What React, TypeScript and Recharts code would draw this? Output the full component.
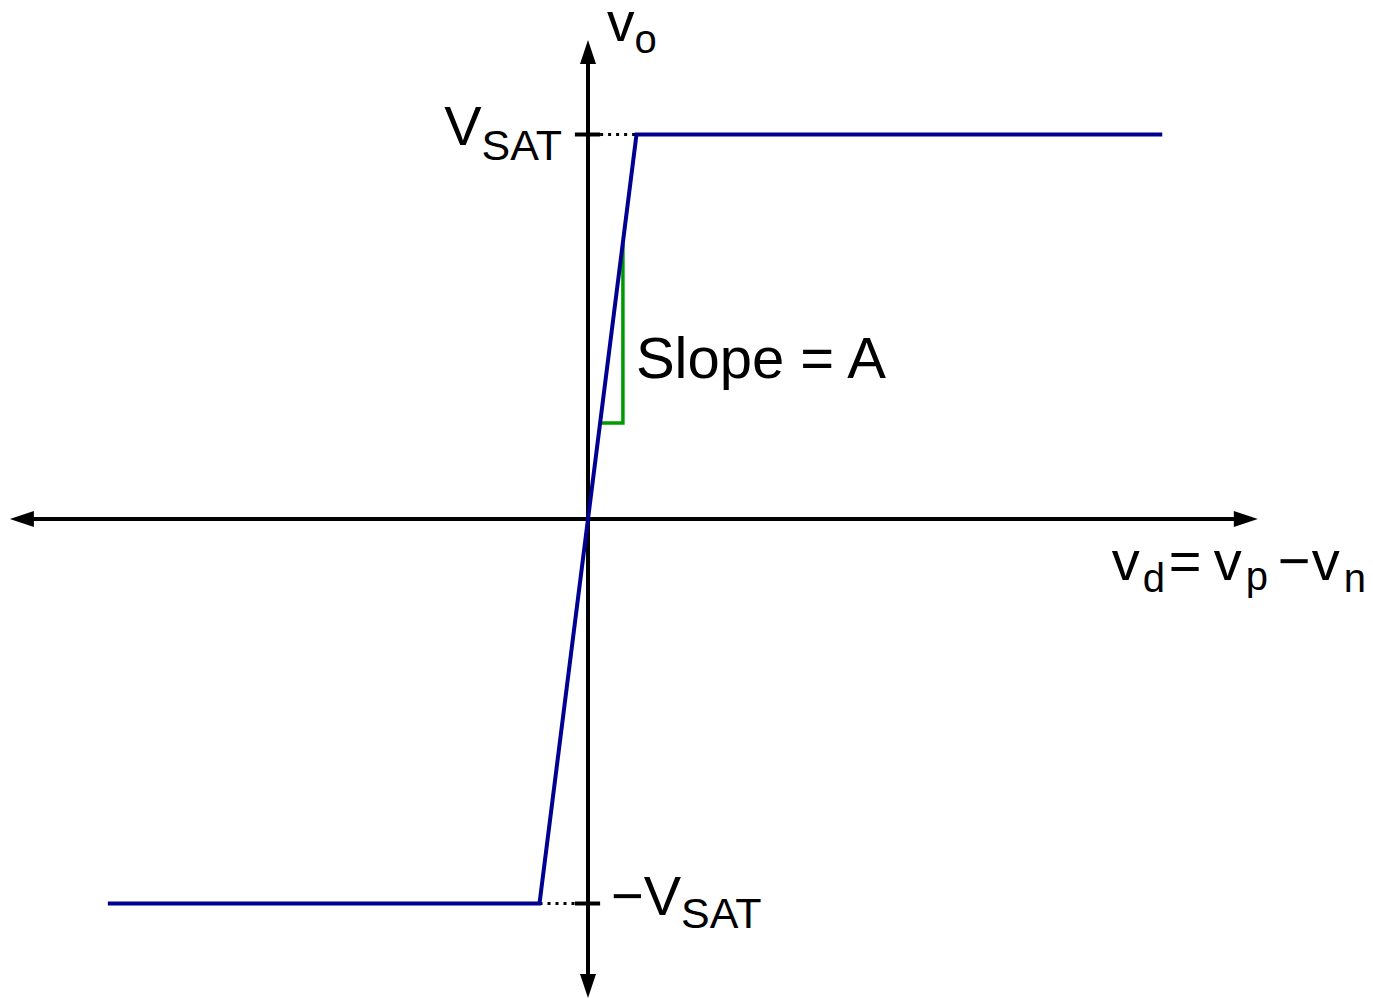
import { LineChart, Line, XAxis, YAxis, ReferenceLine, ReferenceDot } from 'recharts';

// Ideal op-amp transfer curve, vd in units of VSAT/A, vo in units of VSAT
const transferVd = [-9.9, -1, 1, 11.84];
const transferVo = [-1, -1, 1, 1];

// Small slope triangle drawn against the linear region
const slopeVd = [0.25, 0.72, 0.72];
const slopeVo = [0.25, 0.25, 0.72];

const satLevels = [1, -1];
const satLabels = ['V', '\u2212V'];

const transfer = transferVd.map((vd, i) => ({ vd, vo: transferVo[i] }));
const slope = slopeVd.map((vd, i) => ({ vd, vo: slopeVo[i] }));

const X_DOMAIN: [number, number] = [-588 / 48.5, 785 / 48.5];
const Y_DOMAIN: [number, number] = [-480 / 384.5, 519 / 384.5];
const AXIS_X_END: [number, number] = [-11.92, 13.81];
const AXIS_Y_END: [number, number] = [-1.246, 1.246];

const FONT = '"Liberation Sans", Arial, Helvetica, sans-serif';
const BLUE = '#000092';
const GREEN = '#009a00';

type Dir = 'left' | 'right' | 'up' | 'down';

function arrowHead(dir: Dir) {
    return (props: any) => {
        const { cx, cy } = props;
        const L = 24;
        const H = 8;
        let pts = '';
        if (dir === 'left') pts = `${cx},${cy} ${cx + L},${cy - H} ${cx + L},${cy + H}`;
        if (dir === 'right') pts = `${cx},${cy} ${cx - L},${cy - H} ${cx - L},${cy + H}`;
        if (dir === 'up') pts = `${cx},${cy} ${cx - H},${cy + L} ${cx + H},${cy + L}`;
        if (dir === 'down') pts = `${cx},${cy} ${cx - H},${cy - L} ${cx + H},${cy - L}`;
        return <polygon points={pts} fill="#000" />;
    };
}

const voLabel = (props: any) => (
    <text x={props.cx + 19} y={props.cy + 1} fontFamily={FONT} fill="#000">
        <tspan fontSize={55}>v</tspan>
        <tspan fontSize={40} dy={12}>o</tspan>
    </text>
);

const vdLabel = (props: any) => {
    const { cx, cy } = props;
    const y = cy + 61;
    return (
        <text fontFamily={FONT} fill="#000">
            <tspan x={cx - 146} y={y} fontSize={56}>v</tspan>
            <tspan x={cx - 115} y={y + 12} fontSize={40}>d</tspan>
            <tspan x={cx - 89} y={y} fontSize={56}>=</tspan>
            <tspan x={cx - 44} y={y} fontSize={56}>v</tspan>
            <tspan x={cx - 12} y={y + 10} fontSize={40}>p</tspan>
            <tspan x={cx + 20} y={y} fontSize={56}>{'\u2212'}</tspan>
            <tspan x={cx + 54} y={y} fontSize={56}>v</tspan>
            <tspan x={cx + 86} y={y + 12} fontSize={40}>n</tspan>
        </text>
    );
};

const satLabel = (i: number) => (props: any) => {
    const { cx, cy } = props;
    if (i === 0) {
        return (
            <text x={cx - 26} y={cy + 10} textAnchor="end" fontFamily={FONT} fill="#000">
                <tspan fontSize={56}>{satLabels[i]}</tspan>
                <tspan fontSize={43} dy={15}>SAT</tspan>
            </text>
        );
    }
    return (
        <text x={cx + 23} y={cy + 11} fontFamily={FONT} fill="#000">
            <tspan fontSize={56}>{satLabels[i]}</tspan>
            <tspan fontSize={43} dy={13}>SAT</tspan>
        </text>
    );
};

const slopeLabel = (props: any) => (
    <text x={props.cx + 13} y={props.cy - 45} fontFamily={FONT} fontSize={58} fill="#000">
        Slope = A
    </text>
);

export default function App() {
    return (
        <div style={{ position: 'absolute', left: 0, top: 0, background: '#fff' }}>
            <LineChart width={1373} height={999} margin={{ top: 0, right: 0, bottom: 0, left: 0 }}>
                <XAxis type="number" dataKey="vd" domain={X_DOMAIN} allowDataOverflow hide />
                <YAxis type="number" dataKey="vo" domain={Y_DOMAIN} allowDataOverflow hide />

                {/* axes */}
                <ReferenceLine
                    segment={[{ x: AXIS_X_END[0] + 0.3, y: 0 }, { x: AXIS_X_END[1] - 0.3, y: 0 }]}
                    stroke="#000"
                    strokeWidth={4}
                />
                <ReferenceLine
                    segment={[{ x: 0, y: AXIS_Y_END[0] + 0.05 }, { x: 0, y: AXIS_Y_END[1] - 0.05 }]}
                    stroke="#000"
                    strokeWidth={4}
                />
                <ReferenceDot x={AXIS_X_END[0]} y={0} shape={arrowHead('left')} />
                <ReferenceDot x={AXIS_X_END[1]} y={0} shape={arrowHead('right')} />
                <ReferenceDot x={0} y={AXIS_Y_END[1]} shape={arrowHead('up')} />
                <ReferenceDot x={0} y={AXIS_Y_END[0]} shape={arrowHead('down')} />

                {/* saturation ticks and dotted guides */}
                {satLevels.map((v) => (
                    <ReferenceLine
                        key={`tick${v}`}
                        segment={[{ x: -0.27, y: v }, { x: 0.25, y: v }]}
                        stroke="#000"
                        strokeWidth={4}
                    />
                ))}
                <ReferenceLine
                    segment={[{ x: 0.25, y: 1 }, { x: 1, y: 1 }]}
                    stroke="#000"
                    strokeWidth={3}
                    strokeDasharray="3 5"
                />
                <ReferenceLine
                    segment={[{ x: -1, y: -1 }, { x: -0.27, y: -1 }]}
                    stroke="#000"
                    strokeWidth={3}
                    strokeDasharray="3 5"
                />

                <Line
                    data={slope}
                    dataKey="vo"
                    type="linear"
                    stroke={GREEN}
                    strokeWidth={3.5}
                    strokeDasharray="none"
                    dot={false}
                    activeDot={false}
                    isAnimationActive={false}
                />
                <Line
                    data={transfer}
                    dataKey="vo"
                    type="linear"
                    stroke={BLUE}
                    strokeWidth={4}
                    strokeDasharray="none"
                    dot={false}
                    activeDot={false}
                    isAnimationActive={false}
                />

                {/* labels */}
                <ReferenceDot x={0} y={AXIS_Y_END[1]} shape={voLabel} />
                <ReferenceDot x={AXIS_X_END[1]} y={0} shape={vdLabel} />
                {satLevels.map((v, i) => (
                    <ReferenceDot key={`lab${v}`} x={0} y={v} shape={satLabel(i)} />
                ))}
                <ReferenceDot x={slopeVd[1]} y={slopeVo[1]} shape={slopeLabel} />
            </LineChart>
        </div>
    );
}
